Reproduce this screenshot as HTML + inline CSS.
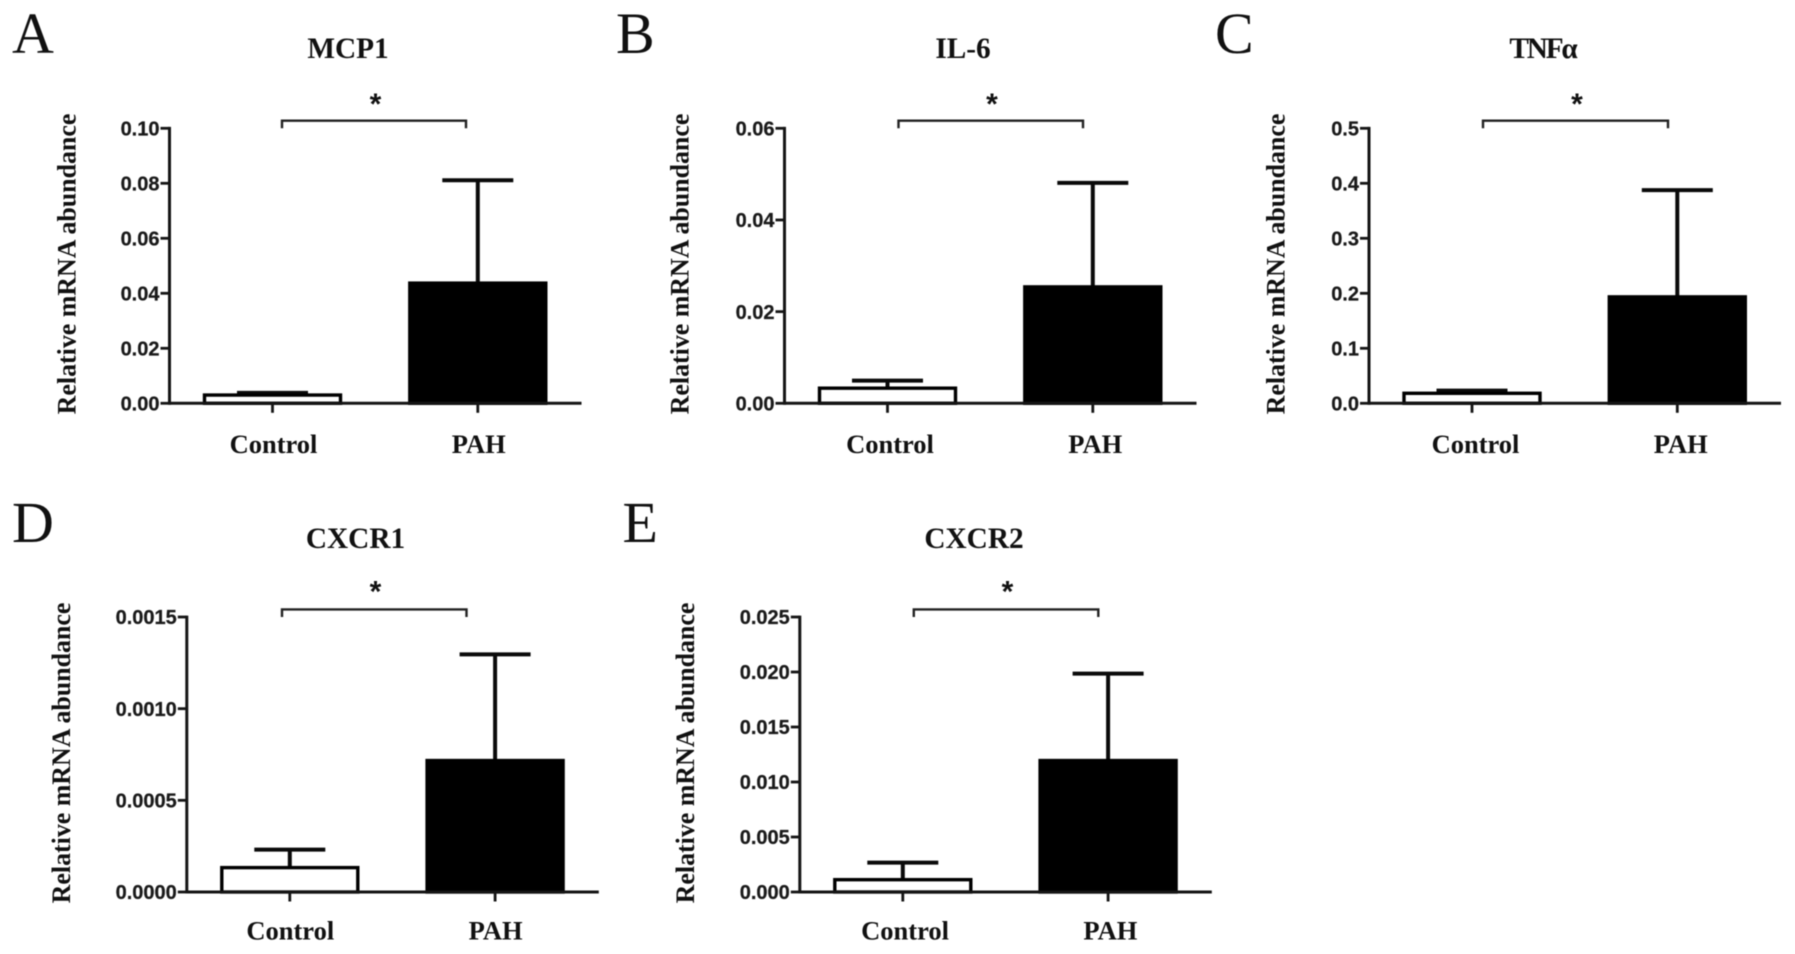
<!DOCTYPE html>
<html lang="en">
<head>
<meta charset="utf-8">
<title>Relative mRNA abundance: Control vs PAH</title>
<style>
  html, body { margin: 0; padding: 0; background: #fff; }
  svg { display: block; filter: blur(0.55px); }
  .letter { font: 400 58px "Liberation Serif", serif; fill: #111; }
  .title { font: 700 29.3px "Liberation Serif", serif; fill: #111; text-anchor: middle; }
  .ylabel { font: 700 25.9px "Liberation Serif", serif; fill: #111; text-anchor: middle; }
  .tick-label { font: 700 20px "Liberation Sans", sans-serif; fill: #1a1a1a; text-anchor: end; stroke: #1a1a1a; stroke-width: 0.25px; }
  .cat-label { font: 700 26.5px "Liberation Serif", serif; fill: #111; text-anchor: middle; }
  .star { font: 700 30px "Liberation Sans", sans-serif; fill: #111; text-anchor: middle; }
</style>
</head>
<body>
<svg id="figure" xmlns="http://www.w3.org/2000/svg" width="1795" height="954" viewBox="0 0 1795 954">
  <rect width="1795" height="954" fill="#fff"/>

  <text class="letter" x="12" y="53">A</text>
  <text class="letter" x="616" y="53">B</text>
  <text class="letter" x="1215" y="53">C</text>
  <text class="letter" x="12" y="542">D</text>
  <text class="letter" x="622.5" y="542">E</text>

  <text class="title" x="348" y="58">MCP1</text>
  <text class="title" x="963" y="58">IL-6</text>
  <text class="title" x="1542.5" y="58" letter-spacing="-2.2">TNFα</text>
  <text class="title" x="355.5" y="548">CXCR1</text>
  <text class="title" x="974" y="548">CXCR2</text>

  <text class="ylabel" transform="translate(75.5,264) rotate(-90)">Relative mRNA abundance</text>
  <text class="ylabel" transform="translate(688.5,264) rotate(-90)">Relative mRNA abundance</text>
  <text class="ylabel" transform="translate(1284.5,264) rotate(-90)">Relative mRNA abundance</text>
  <text class="ylabel" transform="translate(70,753) rotate(-90)">Relative mRNA abundance</text>
  <text class="ylabel" transform="translate(694,753) rotate(-90)">Relative mRNA abundance</text>

  <text class="star" x="375.5" y="114">*</text>
  <text class="star" x="992" y="114">*</text>
  <text class="star" x="1577" y="114">*</text>
  <text class="star" x="375.5" y="601.5">*</text>
  <text class="star" x="1007.5" y="601.5">*</text>

  <g id="plots"></g>
</svg>

<script>
// ---- Chart data ----
const categories = ['Control', 'PAH'];
const panelKeys = ['mcp1', 'il6', 'tnfa', 'cxcr1', 'cxcr2'];

const mcp1Means = [0.0030, 0.0437];
const mcp1Upper = [0.0038, 0.0811];
const mcp1Ticks = ['0.00', '0.02', '0.04', '0.06', '0.08', '0.10'];

const il6Means = [0.0033, 0.0254];
const il6Upper = [0.00495, 0.0481];
const il6Ticks = ['0.00', '0.02', '0.04', '0.06'];

const tnfaMeans = [0.0182, 0.1935];
const tnfaUpper = [0.0230, 0.3877];
const tnfaTicks = ['0.0', '0.1', '0.2', '0.3', '0.4', '0.5'];

const cxcr1Means = [0.000133, 0.000717];
const cxcr1Upper = [0.000231, 0.001296];
const cxcr1Ticks = ['0.0000', '0.0005', '0.0010', '0.0015'];

const cxcr2Means = [0.00112, 0.01195];
const cxcr2Upper = [0.00267, 0.01985];
const cxcr2Ticks = ['0.000', '0.005', '0.010', '0.015', '0.020', '0.025'];

const allMeans = [mcp1Means, il6Means, tnfaMeans, cxcr1Means, cxcr2Means];
const allUpper = [mcp1Upper, il6Upper, tnfaUpper, cxcr1Upper, cxcr2Upper];
const allTicks = [mcp1Ticks, il6Ticks, tnfaTicks, cxcr1Ticks, cxcr2Ticks];

// ---- Layout (not data) ----
const layout = [
  { axisX: 169.5, top: 128.3, bracketL: 282,   bracketR: 466,   labelShift: 1, labelDrop: 49.5 },
  { axisX: 784.5, top: 128.3, bracketL: 898.5, bracketR: 1083,  labelShift: 2.5, labelDrop: 49.5 },
  { axisX: 1369,  top: 128.3, bracketL: 1483,  bracketR: 1668,  labelShift: 3.5, labelDrop: 49.5 },
  { axisX: 186.8, top: 617,   bracketL: 282,   bracketR: 466.5, labelShift: 0.5, labelDrop: 47.5 },
  { axisX: 799.8, top: 617,   bracketL: 913.8, bracketR: 1098.3, labelShift: 2.3, labelDrop: 47.5 }
];
const PLOT_H = 275, AXIS_LEN = 412, BAR_W = 139, CAP_W = 71;
const FIRST_OFFSET = 103, BAND_STEP = 205.3;
const INK = '#151515';
const SVG_NS = 'http://www.w3.org/2000/svg';
const plots = document.getElementById('plots');

function mk(tag, attrs, parent) {
  const el = document.createElementNS(SVG_NS, tag);
  for (const k in attrs) el.setAttribute(k, attrs[k]);
  parent.appendChild(el);
  return el;
}

panelKeys.forEach(function (key, p) {
  const L = layout[p];
  const ticks = allTicks[p];
  const values = ticks.map(Number);
  const yMax = Math.max.apply(null, values);
  const yScale = function (v) { return L.top + PLOT_H - (v / yMax) * PLOT_H; };
  const xScale = function (i) { return L.axisX + FIRST_OFFSET + i * BAND_STEP; };
  const y0 = yScale(0);

  const g = mk('g', {}, plots);
  
  

  // bars with upper error bars
  categories.forEach(function (cat, i) {
    const cx = xScale(i);
    const mean = allMeans[p][i];
    const upper = allUpper[p][i];
    const isPah = i === 1;

    const stem = mk('line', { x1: cx, x2: cx, y1: yScale(mean), y2: yScale(upper), stroke: '#0a0a0a', 'stroke-width': 4 }, g);
    
    

    const cap = mk('line', { x1: cx - CAP_W / 2, x2: cx + CAP_W / 2, y1: yScale(upper), y2: yScale(upper), stroke: '#0a0a0a', 'stroke-width': 4 }, g);
    
    

    const bar = mk('rect', {
      x: cx - BAR_W / 2 + 1.5,
      y: yScale(mean),
      width: BAR_W - 3,
      height: y0 - yScale(mean),
      fill: isPah ? '#000' : '#fff',
      stroke: '#000',
      'stroke-width': 3.4
    }, g);
    
    

    const xt = mk('line', { x1: cx, x2: cx, y1: y0, y2: y0 + 9.5, stroke: INK, 'stroke-width': 2.8 }, g);
    
    

    const lab = mk('text', { class: 'cat-label', x: cx + L.labelShift, y: y0 + L.labelDrop }, g);
    lab.textContent = cat;
    
    
  });

  // y axis, ticks, labels
  const yAxis = mk('line', { x1: L.axisX, x2: L.axisX, y1: yScale(yMax) - 1.4, y2: y0 + 1.4, stroke: INK, 'stroke-width': 3 }, g);
  
  

  const xAxis = mk('line', { x1: L.axisX, x2: L.axisX + AXIS_LEN, y1: y0, y2: y0, stroke: INK, 'stroke-width': 3 }, g);
  
  

  ticks.forEach(function (t, k) {
    const ty = yScale(values[k]);
    const tick = mk('line', { x1: L.axisX - 9, x2: L.axisX, y1: ty, y2: ty, stroke: INK, 'stroke-width': 2.8 }, g);
    
    

    const lbl = mk('text', { class: 'tick-label', x: L.axisX - 10, y: ty + 7.2 }, g);
    lbl.textContent = t;
    
    
  });

  // significance bracket
  const by = L.top - 7.6;
  const bracket = mk('path', {
    d: 'M' + L.bracketL + ' ' + L.top + 'V' + by + 'H' + L.bracketR + 'V' + L.top,
    fill: 'none', stroke: '#222', 'stroke-width': 2.4
  }, g);
  
  
});
</script>
</body>
</html>
